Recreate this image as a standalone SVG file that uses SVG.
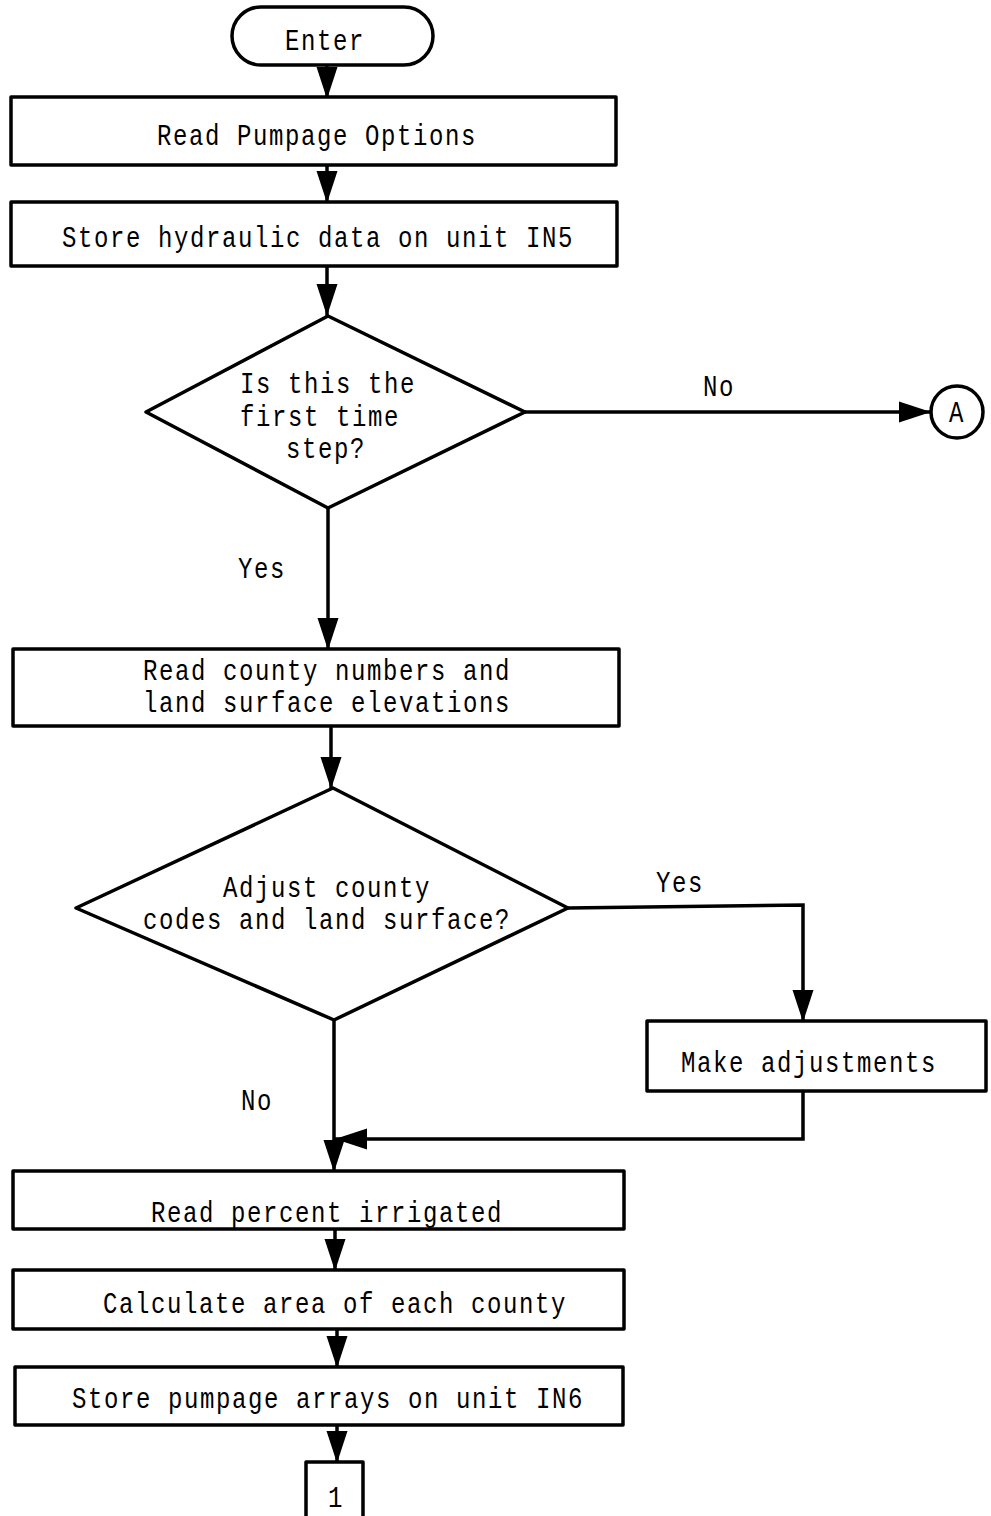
<svg xmlns="http://www.w3.org/2000/svg" width="991" height="1516" viewBox="0 0 991 1516">
<style>
.s{fill:#fff;stroke:#000;stroke-width:3.5;stroke-linejoin:round}
.c{fill:none;stroke:#000;stroke-width:3.5}
text{font-family:"Liberation Mono","DejaVu Sans Mono",monospace;font-size:30px;letter-spacing:2px;fill:#000;text-anchor:middle}
</style>
<defs>
<marker id="ah" markerUnits="userSpaceOnUse" markerWidth="34" markerHeight="24" viewBox="0 0 34 24" refX="32" refY="12" orient="auto">
<path d="M0,1.5 L32,12 L0,22.5 z" fill="#000"/>
</marker>
</defs>
<rect width="991" height="1516" fill="#fff"/>
<g id="connectors">
<line class="c" x1="327" y1="65" x2="327" y2="99" marker-end="url(#ah)"/>
<line class="c" x1="327" y1="165" x2="327" y2="203" marker-end="url(#ah)"/>
<line class="c" x1="327" y1="266" x2="327" y2="316" marker-end="url(#ah)"/>
<line class="c" x1="525" y1="412" x2="931" y2="412" marker-end="url(#ah)"/>
<line class="c" x1="328" y1="508" x2="328" y2="650" marker-end="url(#ah)"/>
<line class="c" x1="331" y1="726" x2="331" y2="789" marker-end="url(#ah)"/>
<polyline class="c" points="568,908 803,905 803,1022" marker-end="url(#ah)"/>
<polyline class="c" points="803,1091 803,1139 335,1139" marker-end="url(#ah)"/>
<line class="c" x1="334" y1="1020" x2="334" y2="1172" marker-end="url(#ah)"/>
<line class="c" x1="335" y1="1229" x2="335" y2="1271" marker-end="url(#ah)"/>
<line class="c" x1="337" y1="1329" x2="337" y2="1368" marker-end="url(#ah)"/>
<line class="c" x1="337" y1="1425" x2="337" y2="1463" marker-end="url(#ah)"/>
<text transform="scale(0.8,1)" x="898.75" y="396">No</text>
<text transform="scale(0.8,1)" x="327.5" y="578">Yes</text>
<text transform="scale(0.8,1)" x="850" y="892">Yes</text>
<text transform="scale(0.8,1)" x="321.25" y="1110">No</text>
</g>
<g id="enter">
<rect class="s" x="232" y="7" width="201" height="58" rx="29"/>
<text transform="scale(0.8,1)" x="406.25" y="50">Enter</text>
</g>
<g id="read-options">
<rect class="s" x="11" y="97" width="605" height="68"/>
<text transform="scale(0.8,1)" x="396.25" y="145">Read Pumpage Options</text>
</g>
<g id="store-hydraulic">
<rect class="s" x="11" y="202" width="606" height="64"/>
<text transform="scale(0.8,1)" x="397.5" y="247">Store hydraulic data on unit IN5</text>
</g>
<g id="first-step">
<polygon class="s" points="328,316 525,412 328,508 146,412"/>
<text transform="scale(0.8,1)" x="410" y="393">Is this the</text>
<text transform="scale(0.8,1)" x="400" y="426">first time</text>
<text transform="scale(0.8,1)" x="407.5" y="458">step?</text>
</g>
<g id="connector-a">
<circle class="s" cx="957" cy="412" r="26"/>
<text transform="scale(0.8,1)" x="1196.25" y="422">A</text>
</g>
<g id="read-county">
<rect class="s" x="13" y="649" width="606" height="77"/>
<text transform="scale(0.8,1)" x="408.75" y="680">Read county numbers and</text>
<text transform="scale(0.8,1)" x="408.75" y="712">land surface elevations</text>
</g>
<g id="adjust">
<polygon class="s" points="333,788 568,908 334,1020 76,908"/>
<text transform="scale(0.8,1)" x="408.75" y="897">Adjust county</text>
<text transform="scale(0.8,1)" x="408.75" y="929">codes and land surface?</text>
</g>
<g id="make-adjustments">
<rect class="s" x="647" y="1021" width="339" height="70"/>
<text transform="scale(0.8,1)" x="1011.25" y="1072">Make adjustments</text>
</g>
<g id="read-percent">
<rect class="s" x="13" y="1171" width="611" height="58"/>
<text transform="scale(0.8,1)" x="408.75" y="1222">Read percent irrigated</text>
</g>
<g id="calc-area">
<rect class="s" x="13" y="1270" width="611" height="59"/>
<text transform="scale(0.8,1)" x="418.75" y="1313">Calculate area of each county</text>
</g>
<g id="store-pumpage">
<rect class="s" x="15" y="1367" width="608" height="58"/>
<text transform="scale(0.8,1)" x="410" y="1408">Store pumpage arrays on unit IN6</text>
</g>
<g id="page-1">
<rect class="s" x="306" y="1462" width="57" height="60"/>
<text transform="scale(0.8,1)" x="420" y="1507">1</text>
</g>
</svg>
